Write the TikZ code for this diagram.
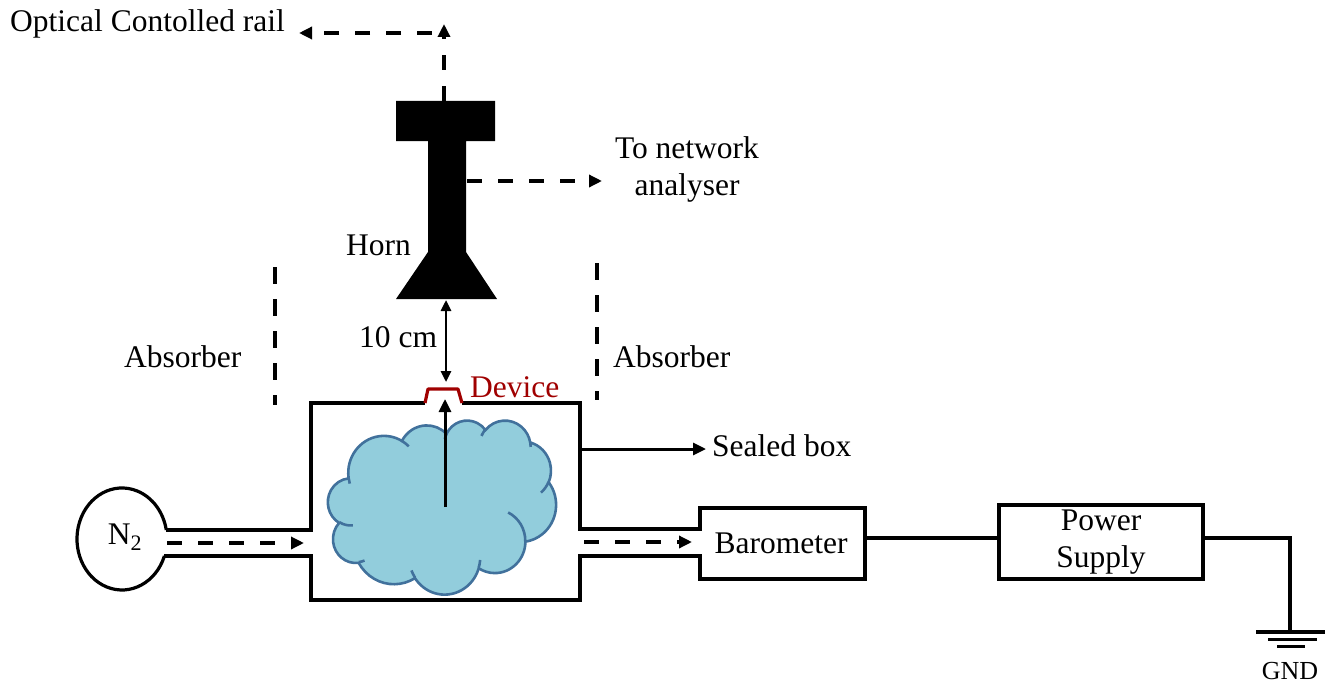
\documentclass[tikz,border=0pt]{standalone}
\usepackage{fontspec}
\setmainfont{Liberation Serif}
\usetikzlibrary{arrows.meta}

\definecolor{cloudfill}{RGB}{146,205,220}
\definecolor{cloudline}{RGB}{65,113,156}
\definecolor{devred}{RGB}{160,0,0}

% parametric angle of an ellipse point given its visual (polar) angle
\pgfmathdeclarefunction{ovang}{3}{%
  \begingroup
  \pgfmathparse{#3 + Mod(atan2(#1*sin(#3), #2*cos(#3)) - #3 + 180, 360) - 180}%
  \pgfmathsmuggle\pgfmathresult
  \endgroup}

\tikzset{
  wire/.style={line width=3.2pt, line join=miter},
  dashline/.style={line width=3.5pt, dash pattern=on 15pt off 16pt},
  tip/.style={-{Triangle[length=13pt,width=12pt]}},
  lbl/.style={inner sep=0pt, font=\fontsize{31.5}{37}\selectfont},
  absorber/.style={line width=4pt, dash pattern=on 17pt off 15pt},
}

\begin{document}
\begin{tikzpicture}[x=1pt, y=-1pt]
\useasboundingbox (0,0) rectangle (1335,682);

% ---- horn (T-shaped waveguide + flare) ----
\fill[black] (396,101) -- (495,101) -- (495,141) -- (466,141) -- (466,252)
  -- (497,299) -- (396,299) -- (428,252) -- (428,141) -- (396,141) -- cycle;
\coordinate (horntop) at (444,101);
\coordinate (hornside) at (467,181);
\coordinate (hornmouth) at (446,300);
\node[lbl, anchor=base west] (horn) at (346,255) {Horn};

% ---- rail feedback ----
\node[lbl, anchor=base west] (rail) at (10,32) {Optical Contolled rail};
\coordinate (railtop) at (444,24);
\coordinate (railstart) at (432,33);
\coordinate (railend) at (299,33);
\draw[dashline, tip] (horntop) -- (railtop);
\draw[dashline, tip] (railstart) -- (railend);

% ---- network analyser ----
\node[lbl, align=center, anchor=base] (na) at (687,195) {To network\\analyser};
\coordinate (naend) at (602,181);
\draw[dashline, tip] (hornside) -- (naend);

% ---- absorbers ----
\coordinate (absL1) at (275,267);
\coordinate (absL2) at (275,405);
\coordinate (absR1) at (597,263);
\coordinate (absR2) at (597,400);
\draw[absorber] (absL1) -- (absL2);
\draw[absorber] (absR1) -- (absR2);
\node[lbl, anchor=base west] (absl) at (124,367) {Absorber};
\node[lbl, anchor=base west] (absr) at (613,367) {Absorber};

% ---- distance ----
\coordinate (devtop) at (446,382);
\draw[line width=2.6pt, {Triangle[length=11pt,width=10pt]}-{Triangle[length=11pt,width=10pt]}] (hornmouth) -- (devtop);
\node[lbl, anchor=base west] (dist) at (359,347) {10 cm};

% ---- gas cloud inside the sealed box ----
\begin{scope}[shift={(328,420)}, xscale=228/432, yscale=174/432]
\draw[cloudline, fill=cloudfill, line width=2.6pt] (39,143.7)
  foreach \rx/\ry/\st/\sw in {
    67.53/91.90/-190.4875/123.7805,
    53.33/72.67/-144.1024/89.9452,
    43.65/59.45/-145.8079/99.7230,
    48.57/65.95/-130.9861/117.2417,
    53.33/72.73/-78.7089/109.0269,
    67.75/92.20/-46.2673/130.2690,
    57.85/78.67/0.6250/114.0333,
    67.52/92.15/22.4516/115.1726,
    77.20/105.43/66.2426/75.7110,
    43.60/59.18/-274.9421/146.7356,
    43.45/59.45/-246.8285/152.5189}
  { arc[x radius=\rx, y radius=\ry, start angle={ovang(\rx,\ry,\st)}, end angle={ovang(\rx,\ry,\st+\sw)}] }
  -- cycle;
\draw[cloudline, line width=2.6pt]
  foreach \px/\py/\rx/\ry/\st/\sw in {
    46.93/261.77/43.45/59.45/86.742/26.4295,
    69.28/348.99/43.60/59.18/73.6105/11.4475,
    164.78/390.90/67.52/92.15/137.6242/14.0811,
    288.27/347.51/67.52/92.15/6.4533/15.9984,
    341.29/229.54/57.85/78.67/-70.2924/70.9174,
    417.98/153.54/53.33/72.73/30.3180/27.7515,
    383.24/54.26/48.57/65.95/-13.7443/14.8589,
    290.78/39.52/48.57/65.95/-149.1815/18.1954,
    221.41/47.20/43.65/59.45/-163.4943/17.6864,
    140.00/51.92/67.53/91.90/-66.7070/12.3194,
    41.27/157.89/67.53/91.90/157.6544/11.8582}
  { (\px,\py) arc[x radius=\rx, y radius=\ry, start angle={ovang(\rx,\ry,\st)}, end angle={ovang(\rx,\ry,\st+\sw)}] };
\end{scope}

% ---- N2 bottle ----
\coordinate (n2a) at (166.3,530);
\coordinate (n2b) at (164.4,556);
\draw[wire] (n2b) arc[x radius=45, y radius=51, start angle=19.5, end angle=349.8];
\node[lbl] (n2) at (125,537) {N\textsubscript{2}};

% ---- sealed box with pipes and barometer ----
\coordinate (devL) at (425,403);
\coordinate (devR) at (462,403);
\draw[wire] (n2a) -- (311,530) -- (311,403) -- (devL);
\draw[wire] (devR) -- (580,403) -- (580,529) -- (700,529) -- (700,508) -- (865,508)
  -- (865,579) -- (700,579) -- (700,556) -- (580,556) -- (580,600) -- (311,600)
  -- (311,556) -- (n2b);
\node[lbl, anchor=base] (baro) at (781,553) {Barometer};

% device on the lid
\draw[devred, line width=3.2pt, line join=round] (devL) -- (428,389) -- (458,389) -- (devR);
\node[lbl, anchor=base west, text=devred] (dev) at (470,397) {Device};

% sensing rod
\coordinate (rodbot) at (445,507);
\coordinate (rodtop) at (445,399);
\draw[line width=3pt, tip] (rodbot) -- (rodtop);

% gas flow
\coordinate (inA) at (167,543);
\coordinate (inB) at (304,543);
\coordinate (outA) at (584,542);
\coordinate (outB) at (692,542);
\draw[dashline, tip] (inA) -- (inB);
\draw[dashline, tip] (outA) -- (outB);

% sealed box label
\coordinate (sbA) at (581,449);
\coordinate (sbB) at (706,449);
\draw[line width=3pt, tip] (sbA) -- (sbB);
\node[lbl, anchor=base west] (sb) at (712,456) {Sealed box};

% ---- power supply and ground ----
\node[lbl, draw, line width=3.2pt, minimum width=204pt, minimum height=74pt,
  align=center] (ps) at (1101,542) {Power\\Supply};
\coordinate (baroE) at (865,538);
\draw[wire] (baroE) -- (ps.west |- baroE);
\coordinate (gndtop) at (1290,538);
\coordinate (gnd) at (1290,632);
\draw[wire] (ps.east |- gndtop) -- (gndtop) -- (gnd);
\draw[wire] (1256,632) -- (1325,632);
\draw[wire] (1268,639.5) -- (1317,639.5);
\draw[wire] (1277,646.5) -- (1305,646.5);
\node[inner sep=0pt, font=\fontsize{26}{30}\selectfont, anchor=base] (gndlbl) at (1290,679) {GND};
\end{tikzpicture}
\end{document}
